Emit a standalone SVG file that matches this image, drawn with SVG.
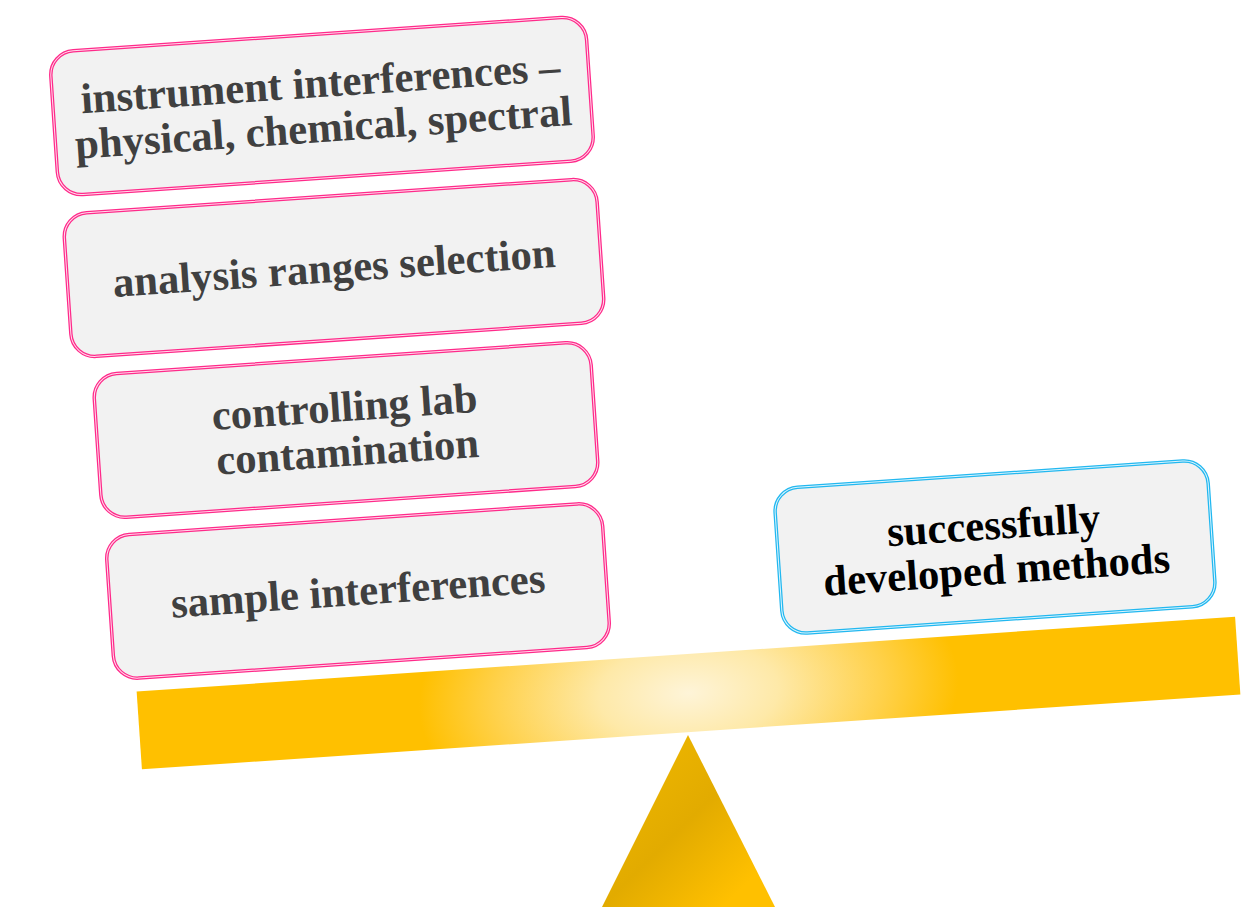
<svg xmlns="http://www.w3.org/2000/svg" width="1245" height="907" viewBox="0 0 1245 907">
  <defs>
    <radialGradient id="beamGrad" gradientUnits="userSpaceOnUse" cx="0" cy="0" r="300" gradientTransform="scale(1,0.55)">
      <stop offset="0" stop-color="#FEF4D8"/>
      <stop offset="0.3" stop-color="#FEE9A8"/>
      <stop offset="0.65" stop-color="#FFD14A"/>
      <stop offset="0.9" stop-color="#FFC000"/>
      <stop offset="1" stop-color="#FFC000"/>
    </radialGradient>
    <linearGradient id="triGrad" x1="0" y1="0" x2="1" y2="1">
      <stop offset="0" stop-color="#F2BA00"/>
      <stop offset="0.5" stop-color="#E2AB00"/>
      <stop offset="0.85" stop-color="#FFC000"/>
      <stop offset="1" stop-color="#FFC000"/>
    </linearGradient>
    <style>
      .box { fill: #F2F2F2; }
      .pinkOuter { fill: none; stroke: #FF2A8A; stroke-width: 3.5; }
      .blueOuter { fill: none; stroke: #22B8F0; stroke-width: 3.5; }
      .inner { fill: none; stroke: #FFFFFF; stroke-width: 1; opacity: 0.85; }
      .lbl { font-family: "Liberation Serif", "Times New Roman", serif; font-weight: bold; font-size: 42.7px; text-anchor: middle; fill: #404040; }
      .lblDark { fill: #000000; }
    </style>
  </defs>

  <g id="fulcrum">
    <polygon points="688,735 602,907 775,907" fill="url(#triGrad)"/>
  </g>

  <g id="beam" transform="translate(688.5,693) rotate(-3.9)">
    <rect x="-550.5" y="-39" width="1101" height="78" fill="url(#beamGrad)"/>
  </g>

  <g id="node-instrument" transform="translate(322,106) rotate(-3.9)">
    <rect class="box" x="-268.5" y="-72" width="537" height="144" rx="24"/>
    <rect class="pinkOuter" x="-268.5" y="-72" width="537" height="144" rx="24"/>
    <rect class="inner" x="-268.5" y="-72" width="537" height="144" rx="24"/>
    <text class="lbl" x="0" y="-9">instrument interferences –</text>
    <text class="lbl" x="0" y="36">physical, chemical, spectral</text>
  </g>

  <g id="node-analysis" transform="translate(334,268) rotate(-3.9)">
    <rect class="box" x="-267" y="-72" width="534" height="144" rx="24"/>
    <rect class="pinkOuter" x="-267" y="-72" width="534" height="144" rx="24"/>
    <rect class="inner" x="-267" y="-72" width="534" height="144" rx="24"/>
    <text class="lbl" x="0" y="14">analysis ranges selection</text>
  </g>

  <g id="node-controlling" transform="translate(346,430) rotate(-3.9)">
    <rect class="box" x="-249" y="-72" width="498" height="144" rx="24"/>
    <rect class="pinkOuter" x="-249" y="-72" width="498" height="144" rx="24"/>
    <rect class="inner" x="-249" y="-72" width="498" height="144" rx="24"/>
    <text class="lbl" x="0" y="-9">controlling lab</text>
    <text class="lbl" x="0" y="36">contamination</text>
  </g>

  <g id="node-sample" transform="translate(358,591) rotate(-3.9)">
    <rect class="box" x="-248.5" y="-72" width="497" height="144" rx="24"/>
    <rect class="pinkOuter" x="-248.5" y="-72" width="497" height="144" rx="24"/>
    <rect class="inner" x="-248.5" y="-72" width="497" height="144" rx="24"/>
    <text class="lbl" x="0" y="14">sample interferences</text>
  </g>

  <g id="node-successful" transform="translate(995,547) rotate(-3.9)">
    <rect class="box" x="-217" y="-73" width="434" height="146" rx="24"/>
    <rect class="blueOuter" x="-217" y="-73" width="434" height="146" rx="24"/>
    <rect class="inner" x="-217" y="-73" width="434" height="146" rx="24"/>
    <text class="lbl lblDark" x="0" y="-8">successfully</text>
    <text class="lbl lblDark" x="0" y="37">developed methods</text>
  </g>

  <g id="connectors"></g>
</svg>
